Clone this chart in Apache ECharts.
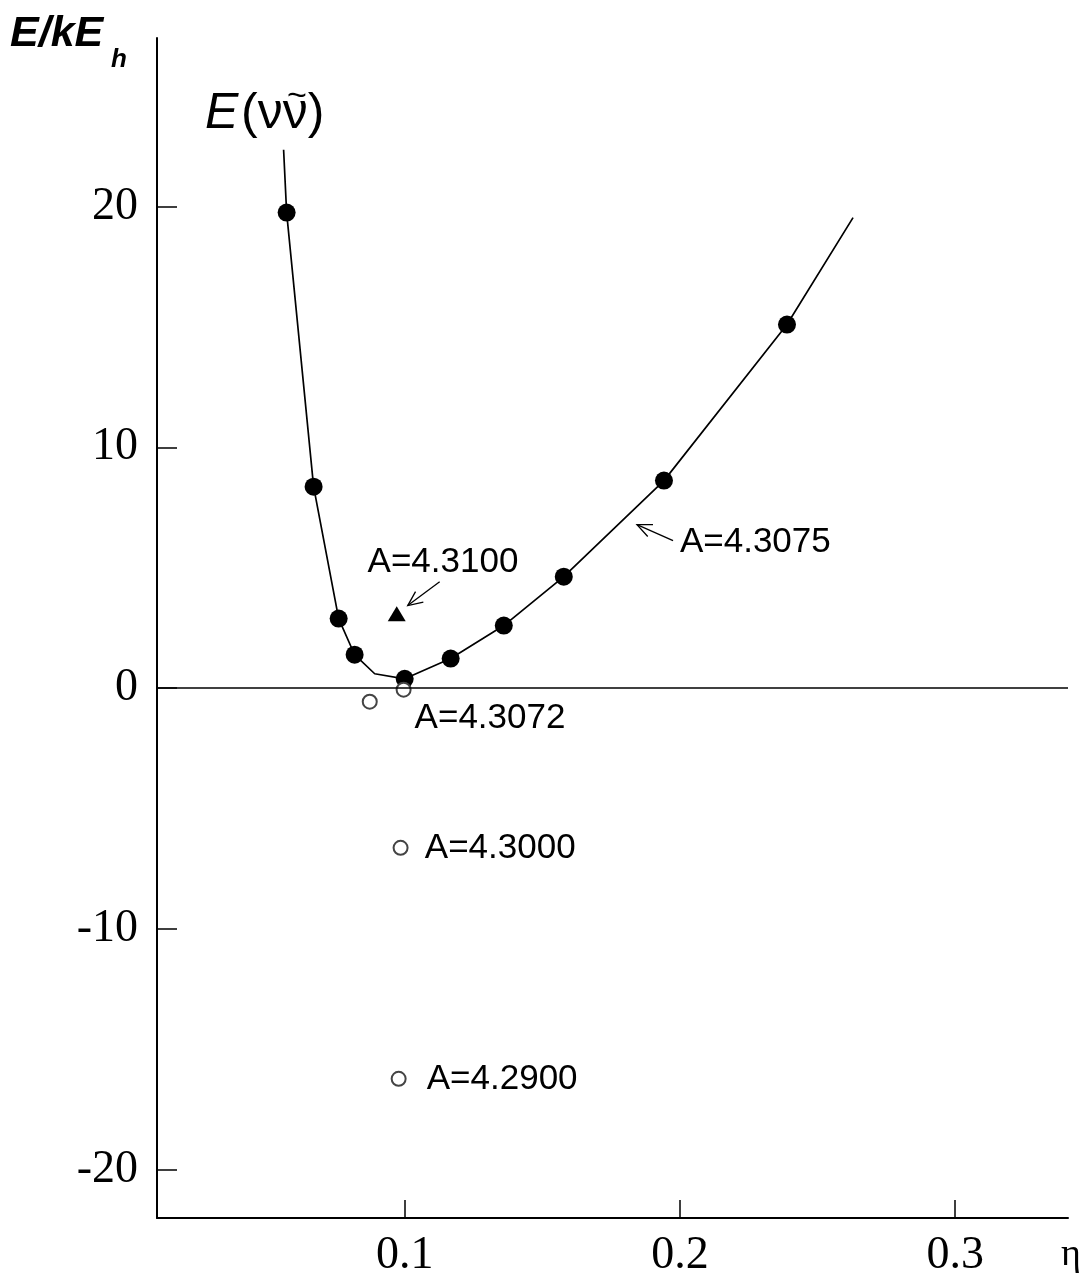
<!DOCTYPE html>
<html>
<head>
<meta charset="utf-8">
<script src="https://cdn.jsdelivr.net/npm/echarts@6/dist/echarts.min.js"></script>
<style>html,body{margin:0;padding:0;background:#fff}#c{width:1085px;height:1280px}</style>
</head>
<body>
<div id="c"></div>
<script>
// ---- data ----
var curveEta = [0.056, 0.0571, 0.0669, 0.076, 0.0818, 0.0891, 0.1, 0.1167, 0.136, 0.1578, 0.1942, 0.2389, 0.2629];
var curveE   = [22.36, 19.75, 8.37, 2.89, 1.39, 0.6, 0.39, 1.23, 2.6, 4.63, 8.62, 15.1, 19.54];

var filledEta = [0.0571, 0.0669, 0.076, 0.0818, 0.1, 0.1167, 0.136, 0.1578, 0.1942, 0.2389];
var filledE   = [19.75, 8.37, 2.89, 1.39, 0.39, 1.23, 2.6, 4.63, 8.62, 15.1];

var openEta = [0.0873, 0.0996, 0.0985, 0.0978];
var openE   = [-0.56, -0.06, -6.63, -16.22];

var triEta = [0.0971];
var triE   = [3.09];

var yTicks = [-20, -10, 0, 10, 20];
var xTicks = [0.1, 0.2, 0.3];

var annoText = ['A=4.3100', 'A=4.3075', 'A=4.3072', 'A=4.3000', 'A=4.2900'];
var annoEta  = [0.0865, 0.2, 0.1036, 0.1073, 0.108];
var annoE    = [5.21, 6.04, -1.27, -6.63, -16.26];

var arrowFromEta = [0.1127, 0.1975];
var arrowFromE   = [4.42, 6.13];
var arrowToEta   = [0.1011, 0.1844];
var arrowToE     = [3.43, 6.79];

function zip(a, b) { return a.map(function (v, i) { return [v, b[i]]; }); }

var chart = echarts.init(document.getElementById('c'), null, { renderer: 'canvas' });

var option = {
  backgroundColor: '#fff',
  animation: false,
  grid: { left: 157, right: 17, top: 38, bottom: 62, containLabel: false, outerBoundsMode: 'none' },
  xAxis: {
    type: 'value', min: 0.01, max: 0.341,
    axisLine: { show: true, onZero: false, lineStyle: { color: '#000', width: 2 } },
    axisTick: { show: true, inside: true, length: 18, customValues: xTicks, lineStyle: { color: '#000', width: 1.5 } },
    axisLabel: { show: true, customValues: xTicks, margin: 15, color: '#000',
      fontFamily: 'Liberation Serif', fontSize: 46, formatter: function (v) { return String(Math.round(v * 10) / 10); } },
    splitLine: { show: false }
  },
  yAxis: {
    type: 'value', min: -22, max: 27,
    axisLine: { show: true, onZero: false, lineStyle: { color: '#000', width: 2 } },
    axisTick: { show: true, inside: true, length: 20, customValues: yTicks, lineStyle: { color: '#000', width: 1.5 } },
    axisLabel: { show: true, customValues: yTicks, margin: 19, color: '#000',
      fontFamily: 'Liberation Serif', fontSize: 46 },
    splitLine: { show: false }
  },
  graphic: [
    { type: 'text', left: 10, top: 13, style: { text: 'E/kE', font: 'italic bold 43px "Liberation Sans"', fill: '#000' } },
    { type: 'text', left: 111, top: 47, style: { text: 'h', font: 'italic bold 26px "Liberation Sans"', fill: '#000' } },
    { type: 'text', left: 205, top: 89, style: { text: 'E', font: 'italic 50px "Liberation Sans"', fill: '#000' } },
    { type: 'text', left: 241, top: 89, style: { text: '(\u03BD\u03BD)', font: '50px "Liberation Sans"', fill: '#000' } },
    { type: 'text', left: 287, top: 80, style: { text: '~', font: '34px "Liberation Sans"', fill: '#000' } },
    { type: 'text', left: 1061, top: 1236, style: { text: '\u03B7', font: '38px "Liberation Serif"', fill: '#000' } }
  ],
  series: [
    {
      type: 'line', data: zip(curveEta, curveE), showSymbol: false, symbol: 'none', smooth: false,
      lineStyle: { color: '#000', width: 1.7 }, z: 2,
      markLine: { silent: true, symbol: ['none', 'none'], label: { show: false },
        lineStyle: { color: '#000', width: 1.6, type: 'solid' }, data: [{ yAxis: 0 }] }
    },
    {
      type: 'scatter', data: zip(filledEta, filledE), symbol: 'circle', symbolSize: 18,
      itemStyle: { color: '#000', opacity: 1 }, z: 4
    },
    {
      type: 'scatter', data: zip(openEta, openE), symbol: 'circle', symbolSize: 14,
      itemStyle: { color: '#fff', borderColor: '#444', borderWidth: 2, opacity: 1 }, z: 4
    },
    {
      type: 'scatter', data: zip(triEta, triE), symbol: 'triangle', symbolSize: [18, 15],
      itemStyle: { color: '#000', opacity: 1 }, z: 4
    },
    {
      type: 'custom', clip: false, z: 5,
      data: arrowFromEta.map(function (v, i) { return [v, arrowFromE[i], arrowToEta[i], arrowToE[i]]; }),
      renderItem: function (params, api) {
        var p1 = api.coord([api.value(0), api.value(1)]);
        var p2 = api.coord([api.value(2), api.value(3)]);
        var ang = Math.atan2(p1[1] - p2[1], p1[0] - p2[0]);
        var L = 16, a = 0.42;
        var h1 = [p2[0] + L * Math.cos(ang + a), p2[1] + L * Math.sin(ang + a)];
        var h2 = [p2[0] + L * Math.cos(ang - a), p2[1] + L * Math.sin(ang - a)];
        var st = { stroke: '#000', lineWidth: 1.3, fill: null };
        return { type: 'group', children: [
          { type: 'line', shape: { x1: p1[0], y1: p1[1], x2: p2[0], y2: p2[1] }, style: st },
          { type: 'polyline', shape: { points: [h1, p2, h2] }, style: st }
        ] };
      }
    },
    {
      type: 'custom', clip: false, z: 5,
      data: zip(annoEta, annoE),
      renderItem: function (params, api) {
        var p = api.coord([api.value(0), api.value(1)]);
        return { type: 'text', x: p[0], y: p[1], style: {
          text: annoText[params.dataIndex], font: '35px "Liberation Sans"', fill: '#000',
          align: 'left', verticalAlign: 'middle' } };
      }
    }
  ]
};
chart.setOption(option);
</script>
</body>
</html>
